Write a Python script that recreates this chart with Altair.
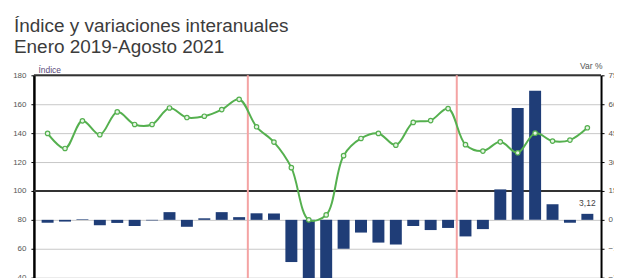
import altair as alt
import pandas as pd

# ---- data ----
years = ["2019", "2020", "2021"]
month_names = ["Ene", "Feb", "Mar", "Abr", "May", "Jun", "Jul", "Ago", "Sep", "Oct", "Nov", "Dic"]
month_labels = [f"{m} {y}" for y in years for m in month_names][:32]

indice = [139.8, 129.4, 148.5, 138.9, 154.7, 146.0, 146.0, 157.4, 150.8, 151.7, 156.3, 163.4,
          144.4, 133.8, 116.1, 80.0, 83.4, 124.4, 136.3, 139.8, 131.7, 147.4, 148.7, 157.0,
          132.0, 127.6, 134.0, 126.4, 140.0, 134.5, 135.2, 143.7]

var_pct = [-1.5, -0.9, 0.3, -2.8, -1.6, -3.2, -0.3, 4.0, -3.6, 0.8, 4.0, 1.4,
           3.4, 3.3, -21.9, -42.5, -46.0, -15.0, -6.6, -11.8, -12.8, -3.2, -5.3, -4.2,
           -8.6, -4.8, 15.8, 58.0, 67.0, 8.1, -1.5, 3.12]

year_breaks = [12, 24]          # boundaries between years (month index)
frame_lines = [180, 100]        # dark horizontal lines (index scale)
label_pos = [31.5]
label_value = [3.12]
label_text = ["3,12"]

left_ticks = list(range(0, 181, 20))
right_ticks = list(range(-60, 76, 15))

df = pd.DataFrame({
    "pos": [i + 0.5 for i in range(len(indice))],
    "mes": month_labels,
    "indice": indice,
    "var": var_pct,
})
breaks_df = pd.DataFrame({"b": year_breaks})
frame_df = pd.DataFrame({"v": frame_lines})
label_df = pd.DataFrame({"pos": label_pos, "v": label_value, "t": label_text})

FONT = "Liberation Sans"
LABEL_COLOR = "#555555"

x_scale = alt.Scale(domain=[0, 32], nice=False, zero=False)
left_scale = alt.Scale(domain=[0, 180], nice=False, zero=False)
right_scale = alt.Scale(domain=[-60, 75], nice=False, zero=False)

def X(field):
    return alt.X(field, type="quantitative", scale=x_scale, axis=None)

right_axis = alt.Axis(
    orient="right", values=right_ticks, grid=False,
    title="Var %", titleAngle=0, titleX=1, titleY=-7, titleAlign="right",
    titleBaseline="alphabetic", titleFontSize=8.5, titleFontWeight="normal",
    titleColor=LABEL_COLOR, titleFont=FONT,
    labelFont=FONT, labelFontSize=8, labelColor=LABEL_COLOR, labelPadding=4,
    tickColor="#000000", tickSize=3, domainColor="#000000", domainWidth=2,
)
left_axis = alt.Axis(
    orient="left", values=left_ticks, grid=True, gridColor="#c8c8c8", gridWidth=1,
    title="Índice", titleAngle=0, titleX=4, titleY=-3, titleAlign="left",
    titleBaseline="alphabetic", titleFontSize=8.5, titleFontWeight="normal",
    titleColor="#5a4a7a", titleFont=FONT,
    labelFont=FONT, labelFontSize=8, labelColor=LABEL_COLOR, labelPadding=5,
    tickColor="#000000", tickSize=3, domainColor="#000000", domainWidth=2.5,
)

bars = alt.Chart(df).mark_bar(size=12, color="#1f3d77").encode(
    x=X("pos"),
    y=alt.Y("var:Q", scale=right_scale, axis=right_axis),
)
bar_label = alt.Chart(label_df).mark_text(
    font=FONT, fontSize=8.5, color="#444444", dy=-6, baseline="bottom"
).encode(
    x=X("pos"),
    y=alt.Y("v:Q", scale=right_scale, axis=None),
    text="t:N",
)
frame = alt.Chart(frame_df).mark_rule(color="#333333", strokeWidth=2).encode(
    y=alt.Y("v:Q", scale=left_scale, axis=left_axis),
)
year_lines = alt.Chart(breaks_df).mark_rule(color="#f4a3a3", strokeWidth=2).encode(
    x=X("b"),
)
line = alt.Chart(df).mark_line(color="#55b04f", strokeWidth=2, interpolate="catmull-rom").encode(
    x=X("pos"),
    y=alt.Y("indice:Q", scale=left_scale, axis=None),
)
points = alt.Chart(df).mark_point(
    shape="circle", size=20, filled=True, fill="#e8f5e6", stroke="#55b04f",
    strokeWidth=1.2, opacity=1,
).encode(
    x=X("pos"),
    y=alt.Y("indice:Q", scale=left_scale, axis=None),
)

chart = alt.layer(frame, bars, bar_label, year_lines, line, points).resolve_scale(
    y="independent"
).properties(
    width=569,
    height=261,
    padding={"left": 4, "top": 9, "right": -8, "bottom": 0},
    background="white",
    title=alt.TitleParams(
        text=["Índice y variaciones interanuales", "Enero 2019-Agosto 2021"],
        anchor="start", frame="group", fontSize=19, font=FONT, fontWeight="normal",
        color="#3c3c3c", lineHeight=21, offset=4, dx=-20,
    ),
).configure_view(stroke=None)

chart.save("out.html", embed_options={"renderer": "svg", "actions": False})
